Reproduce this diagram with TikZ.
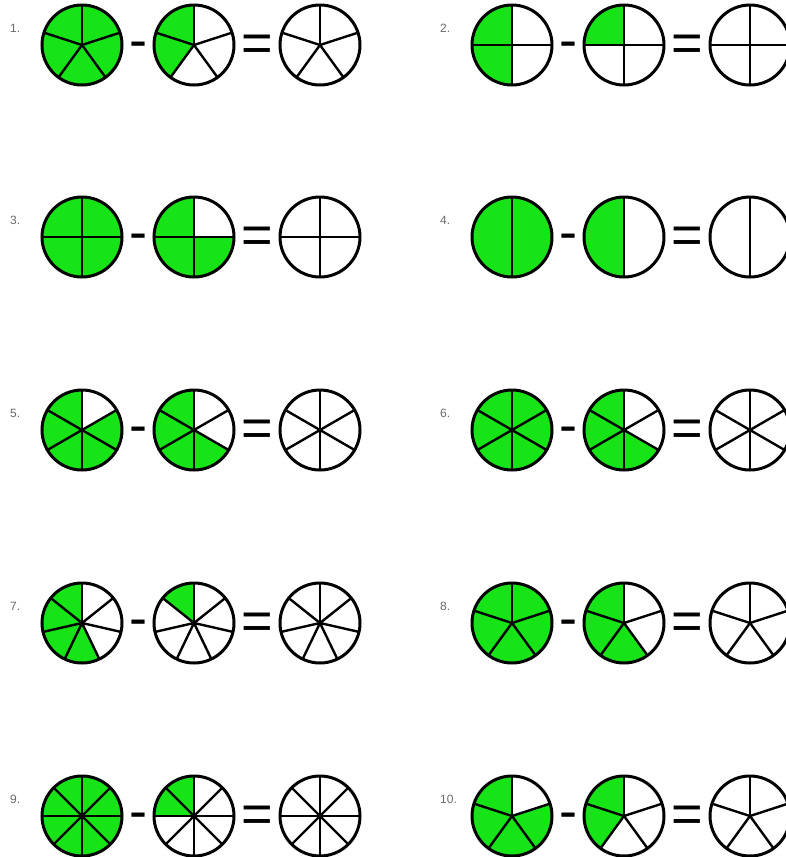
\documentclass[tikz,border=0pt]{standalone}
\usepackage{fontspec}
\setmainfont{Liberation Sans}
\usepackage{xcolor}
\usepackage{tikz}

\definecolor{piegreen}{RGB}{22,228,22}
\definecolor{labelgray}{RGB}{105,105,105}

% wheel at #1 cut into #2 parts, #3 of them green (counter-clockwise from the top)
\newcommand{\fracwheel}[3]{%
  \ifnum#3>0
    \fill[piegreen] (#1) -- ++(90:40) arc[start angle=90,delta angle={360*#3/#2},radius=40] -- cycle;
  \fi
  \foreach \k in {1,...,#2} \draw[spoke] (#1) -- ++({90+360*\k/#2}:40);
  \draw[rim] (#1) circle[radius=40];
}

\begin{document}
\begin{tikzpicture}[x=1pt,y=1pt,
  spoke/.style={line width=2.4pt},
  rim/.style={line width=3pt},
  sign/.style={font=\fontsize{54}{54}\selectfont,anchor=base,inner sep=0pt},
  tag/.style={font=\fontsize{12}{14}\selectfont,text=labelgray,anchor=west,inner sep=0pt}]
  \useasboundingbox (0,0) rectangle (786,-857);
  \foreach \num/\dx/\y/\n/\a/\b in {1/0/45/5/5/2, 2/430/45/4/2/1, 3/0/237/4/4/3,
      4/430/237/2/2/1, 5/0/430/6/5/4, 6/430/430/6/6/4, 7/0/623/7/4/1,
      8/430/623/5/5/3, 9/0/816/8/8/2, 10/430/816/5/4/2}{
    \coordinate (w\num a) at (82+\dx,-\y);
    \coordinate (w\num b) at (194+\dx,-\y);
    \coordinate (w\num c) at (320+\dx,-\y);
    \node[tag] (t\num) at (10+\dx,17-\y) {\num.};
    \node[sign] (m\num) at (138+\dx,-\y-13) {-};
    \node[sign] (e\num) at (257+\dx,-\y-16) {=};
    \fracwheel{w\num a}{\n}{\a}
    \fracwheel{w\num b}{\n}{\b}
    \fracwheel{w\num c}{\n}{0}
  }
\end{tikzpicture}
\end{document}
